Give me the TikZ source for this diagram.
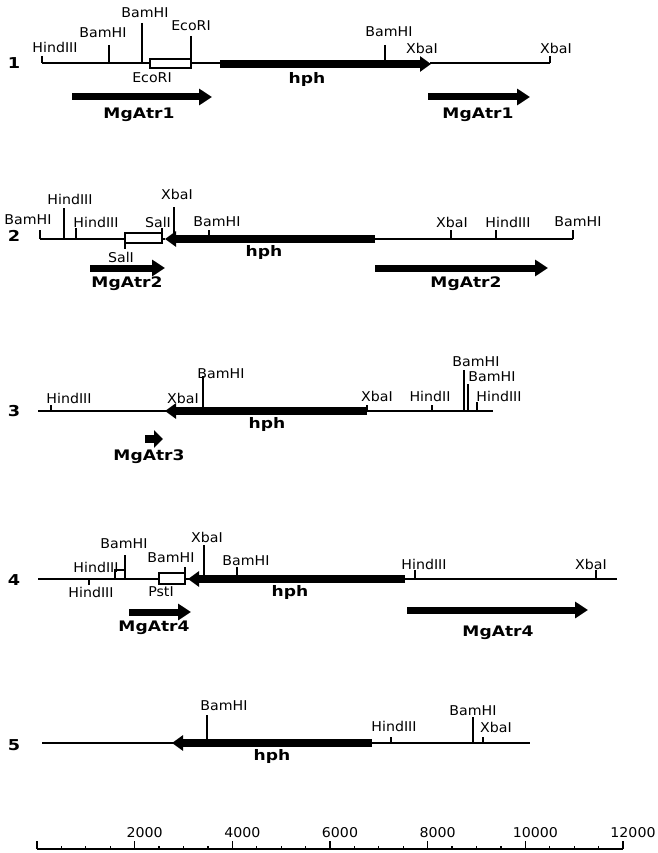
\documentclass[tikz,border=0pt]{standalone}
\usepackage{fontspec}
\setmainfont{DejaVu Sans}[FakeStretch=1.05]
\newfontfamily\boldfam{DejaVu Sans Bold}[FakeStretch=1.18]
\usetikzlibrary{arrows.meta}
\begin{document}
\begin{tikzpicture}[x=1pt,y=-1pt,
  lab/.style={font=\fontsize{13.5}{15}\selectfont, inner sep=0pt},
  blab/.style={font=\boldfam\fontsize{14.5}{16}\selectfont, inner sep=0pt},
  num/.style={font=\boldfam\fontsize{15}{17}\selectfont, inner sep=0pt},
  dna/.style={line width=1.5pt},
  site/.style={line width=1.4pt},
  insertbox/.style={draw, line width=1.2pt, fill=white},
  gene/.style={line width=7.5pt, -{Triangle[length=11pt,width=15pt]}},
  orf/.style={line width=7pt, -{Triangle[length=13pt,width=16pt]}},
  orfsmall/.style={line width=8pt, -{Triangle[length=9pt,width=17pt]}},
]
\useasboundingbox (0,0) rectangle (657,853);

% ---------------- Row 1 ----------------
\node[num] (n1) at (14,63) {1};
\draw[dna] (42,63) -- (220,63);
\draw[dna] (430,63) -- (550,63);
\draw[site] (42,56) -- (42,63);   \node[lab] (r1h1) at (55,47) {HindIII};
\draw[site] (109,45) -- (109,63); \node[lab] (r1b1) at (103,33) {BamHI};
\draw[site] (142,23) -- (142,63); \node[lab] (r1b2) at (145,13) {BamHI};
\draw[insertbox] (150,59) rectangle (191,68);
\node[lab] (r1e1) at (152,78) {EcoRI};
\draw[site] (191,36) -- (191,68); \node[lab] (r1e2) at (191,26) {EcoRI};
\draw[gene] (220,64) -- (431,64);  \node[blab] (r1hph) at (307,80) {hph};
\draw[site] (385,45) -- (385,60); \node[lab] (r1b3) at (389,32) {BamHI};
\node[lab] (r1x1) at (422,48) {XbaI};
\draw[site] (550,56) -- (550,63); \node[lab] (r1x2) at (556,48) {XbaI};
\draw[orf] (72,97) -- (212,97);   \node[blab] (r1m1) at (139,115) {MgAtr1};
\draw[orf] (428,97) -- (530,97);  \node[blab] (r1m2) at (478,115) {MgAtr1};

% ---------------- Row 2 ----------------
\node[num] (n2) at (14,236) {2};
\draw[dna] (40,239) -- (165,239);
\draw[dna] (375,239) -- (573,239);
\draw[site] (40,230) -- (40,239);  \node[lab] (r2b1) at (28,220) {BamHI};
\draw[site] (64,208) -- (64,239);  \node[lab] (r2h1) at (70,199) {HindIII};
\draw[site] (76,228) -- (76,239);  \node[lab] (r2h2) at (96,222) {HindIII};
\draw[insertbox] (125,233) rectangle (162,243);
\draw[site] (125,243) -- (125,249); \node[lab] (r2s1) at (121,257) {SalI};
\draw[site] (162,228) -- (162,239); \node[lab] (r2s2) at (158,222) {SalI};
\draw[site] (174,207) -- (174,239); \node[lab] (r2x1) at (177,194) {XbaI};
\draw[gene] (375,239) -- (165,239); \node[blab] (r2hph) at (264,252) {hph};
\draw[site] (209,230) -- (209,236); \node[lab] (r2b2) at (217,222) {BamHI};
\draw[site] (451,230) -- (451,239); \node[lab] (r2x2) at (452,222) {XbaI};
\draw[site] (496,230) -- (496,239); \node[lab] (r2h3) at (508,222) {HindIII};
\draw[site] (573,230) -- (573,239); \node[lab] (r2b3) at (578,222) {BamHI};
\draw[orf] (90,268) -- (165,268);   \node[blab] (r2m1) at (127,284) {MgAtr2};
\draw[orf] (375,268) -- (548,268);  \node[blab] (r2m2) at (466,284) {MgAtr2};

% ---------------- Row 3 ----------------
\node[num] (n3) at (14,411) {3};
\draw[dna] (38,411) -- (493,411);
\draw[site] (51,405) -- (51,411);   \node[lab] (r3h1) at (69,398) {HindIII};
\node[lab] (r3x1) at (183,398) {XbaI};
\draw[site] (203,376) -- (203,408); \node[lab] (r3b1) at (221,374) {BamHI};
\draw[gene] (367,411) -- (165,411); \node[blab] (r3hph) at (267,424) {hph};
\draw[site] (367,405) -- (367,411); \node[lab] (r3x2) at (377,396) {XbaI};
\draw[site] (432,405) -- (432,411); \node[lab] (r3h2) at (430,396) {HindII};
\draw[site] (464,370) -- (464,411); \node[lab] (r3b2) at (476,362) {BamHI};
\draw[site] (468,384) -- (468,411); \node[lab] (r3b3) at (492,377) {BamHI};
\draw[site] (477,402) -- (477,411); \node[lab] (r3h3) at (499,396) {HindIII};
\draw[orfsmall] (145,439) -- (163,439); \node[blab] (r3m1) at (149,457) {MgAtr3};

% ---------------- Row 4 ----------------
\node[num] (n4) at (14,580) {4};
\draw[dna] (38,579) -- (617,579);
\draw[site] (89,579) -- (89,585);   \node[lab] (r4h1) at (91,592) {HindIII};
\draw[insertbox] (115,570) rectangle (125,579);
\node[lab] (r4h2) at (96,567) {HindIII};
\draw[site] (125,555) -- (125,579); \node[lab] (r4b1) at (124,544) {BamHI};
\draw[insertbox] (159,573) rectangle (185,584);
\node[lab] (r4p1) at (161,592) {PstI};
\draw[site] (185,567) -- (185,579); \node[lab] (r4b2) at (171,558) {BamHI};
\draw[site] (204,545) -- (204,579); \node[lab] (r4x1) at (207,537) {XbaI};
\draw[gene] (405,579) -- (188,579); \node[blab] (r4hph) at (290,592) {hph};
\draw[site] (237,567) -- (237,576); \node[lab] (r4b3) at (246,561) {BamHI};
\draw[site] (415,570) -- (415,579); \node[lab] (r4h3) at (424,564) {HindIII};
\draw[site] (596,570) -- (596,579); \node[lab] (r4x2) at (591,564) {XbaI};
\draw[orf] (129,612) -- (191,612);  \node[blab] (r4m1) at (154,628) {MgAtr4};
\draw[orf] (407,610) -- (588,610);  \node[blab] (r4m2) at (498,633) {MgAtr4};

% ---------------- Row 5 ----------------
\node[num] (n5) at (14,745) {5};
\draw[dna] (42,743) -- (530,743);
\draw[gene] (372,743) -- (172,743); \node[blab] (r5hph) at (272,756) {hph};
\draw[site] (207,715) -- (207,740); \node[lab] (r5b1) at (224,706) {BamHI};
\draw[site] (391,737) -- (391,743); \node[lab] (r5h1) at (394,726) {HindIII};
\draw[site] (473,717) -- (473,743); \node[lab] (r5b2) at (473,711) {BamHI};
\draw[site] (483,737) -- (483,743); \node[lab] (r5x1) at (496,727) {XbaI};

% ---------------- Scale bar ----------------
\draw[dna] (37,849) -- (623,849);
\foreach \i in {1,...,23} {
  \draw[line width=1.2pt] ({37+24.417*\i},849) -- ({37+24.417*\i},845.5);
}
\foreach \k in {0,...,6} {
  \draw[line width=1.4pt] ({37+97.667*\k},849) -- ({37+97.667*\k},841);
}
\foreach \k/\t in {1/2000,2/4000,3/6000,4/8000,5/10000,6/12000} {
  \node[lab] (sc\k) at ({37+97.667*\k+10},833) {\t};
}
\end{tikzpicture}
\end{document}
